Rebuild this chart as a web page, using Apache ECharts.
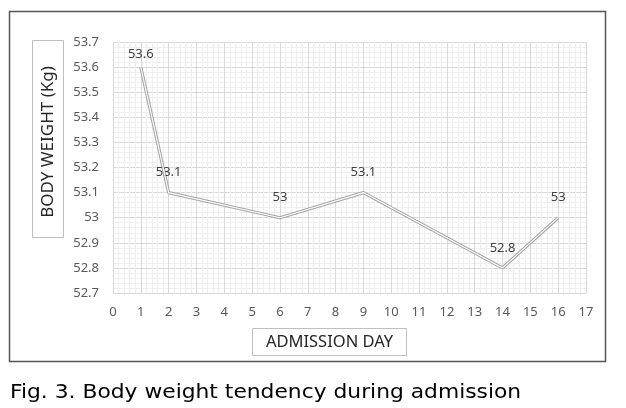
<!DOCTYPE html>
<html>
<head>
<meta charset="utf-8">
<script src="https://cdn.jsdelivr.net/npm/echarts@6/dist/echarts.min.js"></script>
<style>
html,body{margin:0;padding:0;background:#fff;}
#c{width:626px;height:408px;}
</style>
</head>
<body>
<div id="c"></div>
<script>
var days = [1, 2, 6, 9, 14, 16];
var weights = [53.6, 53.1, 53, 53.1, 52.8, 53];
var xTitle = 'ADMISSION DAY';
var yTitle = 'BODY WEIGHT (Kg)';
var caption = 'Fig. 3. Body weight tendency during admission';

var pts = days.map(function (d, i) {
  var p = {value: [d, weights[i]]};
  if (i === 0) p.label = {distance: 6};
  return p;
});
var chart = echarts.init(document.getElementById('c'), null, {renderer: 'canvas'});
var tickFont = {color: '#595959', fontSize: 13, fontFamily: 'Noto Sans, sans-serif'};
chart.setOption({
  animation: false,
  backgroundColor: '#fff',
  grid: {left: 113, top: 42, width: 473, height: 251, containLabel: false},
  xAxis: {
    type: 'value', min: 0, max: 17, interval: 1,
    axisLine: {show: false}, axisTick: {show: false},
    axisLabel: Object.assign({margin: 13}, tickFont),
    splitLine: {show: true, lineStyle: {color: '#d9d9d9', width: 1}},
    minorTick: {show: false, splitNumber: 5},
    minorSplitLine: {show: true, lineStyle: {color: '#efefef', width: 1}}
  },
  yAxis: {
    type: 'value', min: 52.7, max: 53.7, interval: 0.1,
    axisLine: {show: false}, axisTick: {show: false},
    axisLabel: Object.assign({margin: 14, formatter: function (v) { return String(Math.round(v * 10) / 10); }}, tickFont),
    splitLine: {show: true, lineStyle: {color: '#d9d9d9', width: 1}},
    minorTick: {show: false, splitNumber: 5},
    minorSplitLine: {show: true, lineStyle: {color: '#efefef', width: 1}}
  },
  series: [
    {
      type: 'line', data: pts, z: 2,
      symbol: 'circle', symbolSize: 1, showSymbol: true,
      itemStyle: {color: 'rgba(0,0,0,0)'},
      lineStyle: {color: '#a6a6a6', width: 3.2},
      label: {show: true, position: 'top', distance: 13, color: '#404040', fontSize: 13, fontFamily: 'Noto Sans, sans-serif',
        formatter: function (p) { return String(p.value[1]); }}
    },
    {
      type: 'line', data: pts.map(function (p) { return p.value; }), symbol: 'none', z: 3,
      lineStyle: {color: '#ffffff', width: 1.1},
      silent: true
    }
  ],
  graphic: [
    {type: 'rect', shape: {x: 9.5, y: 11.5, width: 596, height: 350}, style: {fill: null, stroke: '#555', lineWidth: 1.5}, z: 0},
    {type: 'rect', shape: {x: 32.5, y: 40.5, width: 31, height: 197}, style: {fill: '#fff', stroke: '#bfbfbf', lineWidth: 1}},
    {type: 'text', x: 48, y: 142, rotation: Math.PI / 2, style: {text: yTitle, fill: '#262626', font: '17px "Noto Sans", sans-serif', textAlign: 'center', textVerticalAlign: 'middle'}},
    {type: 'rect', shape: {x: 252.5, y: 328.5, width: 154, height: 27}, style: {fill: '#fff', stroke: '#bfbfbf', lineWidth: 1}},
    {type: 'text', x: 329.5, y: 342.5, style: {text: xTitle, fill: '#262626', font: '16.5px "Noto Sans", sans-serif', textAlign: 'center', textVerticalAlign: 'middle'}},
    {type: 'text', x: 10, y: 393, scaleX: 1.09, style: {text: caption, fill: '#000', font: '20px "DejaVu Sans", sans-serif', textAlign: 'left', textVerticalAlign: 'middle'}}
  ]
});
</script>
</body>
</html>
